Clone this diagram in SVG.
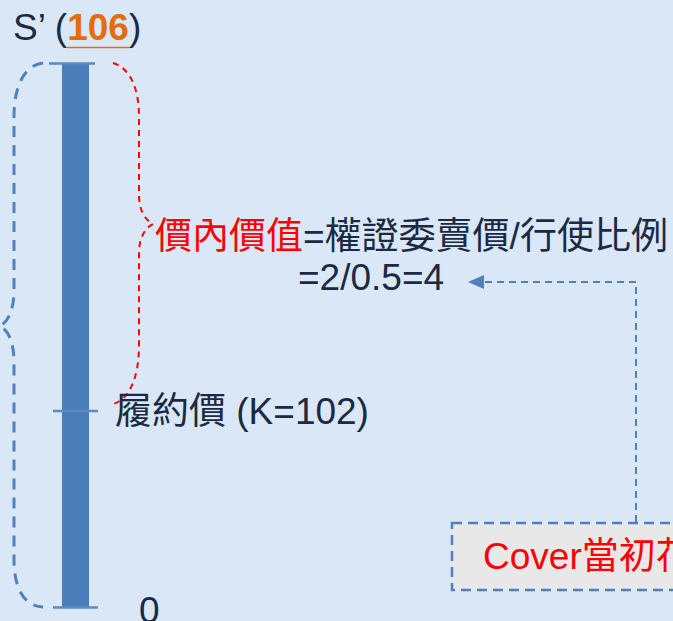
<svg xmlns="http://www.w3.org/2000/svg" width="673" height="621" viewBox="0 0 673 621">
<defs>
<style>
.t{font-family:"Liberation Sans","Noto Sans CJK TC",sans-serif;font-size:37px;fill:#1B2A44}
.red{fill:#FF0000}
.org{fill:#E46C0A;font-weight:bold}
.tick{stroke:#5A8AC6;stroke-width:2.5}
.bl{fill:none;stroke:#4F81BD;stroke-width:3;stroke-dasharray:11 8}
.rd{fill:none;stroke:#FF0000;stroke-width:2;stroke-dasharray:6 5}
.con{fill:none;stroke:#4F81BD;stroke-width:2;stroke-dasharray:7 5}
</style>
<marker id="ah" markerWidth="16" markerHeight="14" refX="0" refY="7" orient="auto" markerUnits="userSpaceOnUse" viewBox="0 0 16 14">
<path d="M0,0 L16,7 L0,14 Z" fill="#4F81BD"/>
</marker>
</defs>
<rect width="673" height="621" fill="#DAE7F7"/>
<g id="axis">
<rect x="62" y="63" width="27" height="545" fill="#4A7EBB"/>
<line class="tick" x1="49" y1="63.5" x2="95" y2="63.5"/>
<line class="tick" x1="53" y1="411" x2="98" y2="411"/>
<line class="tick" x1="53" y1="607.5" x2="98" y2="607.5"/>
</g>
<g id="left-brace">
<path class="bl" d="M43,63 C25,65 14,85 14,117 L14,290 C14,310 8,322 0,326 C8,330 14,342 14,362 L14,560 C14,590 25,606 43,607"/>
</g>
<g id="right-brace">
<path class="rd" d="M113,63 C130,68 139,88 139,117 L139,195 C139,210 145,220 153,224 C145,228 139,238 139,253 L139,345 C139,380 128,400 113,404"/>
</g>
<g id="label-top">
<text class="t" x="13" y="40">S’ (<tspan class="org">106</tspan>)</text>
<line x1="67" y1="47.5" x2="130" y2="47.5" stroke="#E46C0A" stroke-width="1.5"/>
</g>
<g id="label-intrinsic">
<text class="t" x="155" y="249"><tspan class="red">價內價值</tspan>=權證委賣價/行使比例</text>
<text class="t" x="298" y="290">=2/0.5=4</text>
</g>
<g id="label-strike">
<text class="t" x="115" y="424">履約價 (K=102)</text>
</g>
<g id="label-zero">
<text class="t" x="139" y="623">0</text>
</g>
<g id="cover-box">
<rect x="452" y="523" width="240" height="67" fill="#E8E8E8" stroke="#4F81BD" stroke-width="2.5" stroke-dasharray="10 6"/>
<text class="t red" x="483" y="569">Cover當初花</text>
</g>
<g id="connectors">
<path class="con" d="M636,522 L636,282 L484,282" marker-end="url(#ah)"/>
</g>
</svg>
